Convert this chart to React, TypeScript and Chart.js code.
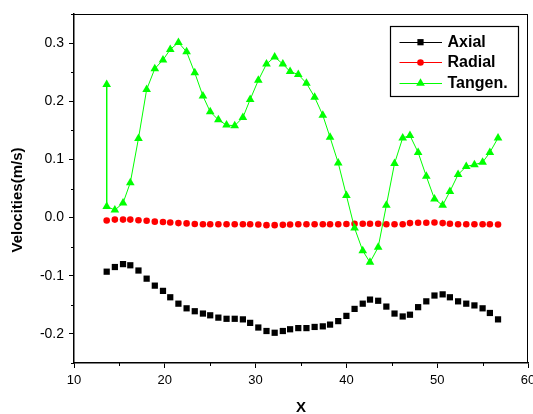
import React, { useEffect, useRef } from 'react';
import { Chart, registerables } from 'chart.js';

Chart.register(...registerables);

// ---- data ----
const xValues = [
  13.6, 14.5, 15.4, 16.2, 17.1, 18.0, 18.9, 19.8, 20.6, 21.5,
  22.4, 23.3, 24.2, 25.0, 25.9, 26.8, 27.7, 28.6, 29.4, 30.3,
  31.2, 32.1, 33.0, 33.8, 34.7, 35.6, 36.5, 37.4, 38.2, 39.1,
  40.0, 40.9, 41.8, 42.6, 43.5, 44.4, 45.3, 46.2, 47.0, 47.9,
  48.8, 49.7, 50.6, 51.4, 52.3, 53.2, 54.1, 55.0, 55.8, 56.7,
];

const axial = [
  -0.093, -0.085, -0.080, -0.082, -0.091, -0.105, -0.117, -0.126, -0.137, -0.148,
  -0.156, -0.161, -0.165, -0.168, -0.172, -0.174, -0.174, -0.175, -0.181, -0.189,
  -0.195, -0.198, -0.195, -0.192, -0.190, -0.190, -0.188, -0.187, -0.184, -0.178,
  -0.169, -0.157, -0.148, -0.141, -0.143, -0.153, -0.165, -0.170, -0.167, -0.154,
  -0.144, -0.134, -0.132, -0.137, -0.144, -0.148, -0.151, -0.156, -0.164, -0.175,
];

const radial = [
  -0.005, -0.0035, -0.0035, -0.0035, -0.0045, -0.0055, -0.007, -0.0075, -0.0085, -0.0095,
  -0.010, -0.011, -0.0115, -0.0115, -0.0115, -0.0115, -0.0115, -0.0115, -0.0115, -0.012,
  -0.013, -0.013, -0.0125, -0.012, -0.0115, -0.0115, -0.0115, -0.0115, -0.0115, -0.0115,
  -0.011, -0.0105, -0.0105, -0.0105, -0.0105, -0.0115, -0.0115, -0.0115, -0.0095, -0.009,
  -0.009, -0.0085, -0.0095, -0.0105, -0.0115, -0.0115, -0.0115, -0.0115, -0.0115, -0.012,
];

const tangenLead = 0.229;
const tangen = [
  0.019, 0.013, 0.025, 0.060, 0.136, 0.220, 0.256, 0.271, 0.289, 0.301,
  0.285, 0.249, 0.209, 0.182, 0.168, 0.159, 0.158, 0.172, 0.203, 0.236,
  0.264, 0.276, 0.264, 0.251, 0.246, 0.231, 0.207, 0.176, 0.138, 0.094,
  0.038, -0.018, -0.057, -0.077, -0.051, 0.021, 0.093, 0.137, 0.141, 0.112,
  0.071, 0.032, 0.021, 0.045, 0.074, 0.088, 0.091, 0.095, 0.112, 0.137,
];

const seriesLabels = ['Axial', 'Radial', 'Tangen.'];
const xTickValues = [10, 20, 30, 40, 50, 60];
const xMinorTickValues = [15, 25, 35, 45, 55];
const yTickValues = [-0.2, -0.1, 0.0, 0.1, 0.2, 0.3];
const yMinorTickValues = [-0.25, -0.15, -0.05, 0.05, 0.15, 0.25, 0.35];
const xTitle = 'X';
const yTitle = 'Velocities(m/s)';

const FONT = '"Liberation Sans", Arial, Helvetica, sans-serif';

function drawMarker(ctx: CanvasRenderingContext2D, style: string, x: number, y: number, r: number, color: string) {
  ctx.fillStyle = color;
  ctx.beginPath();
  if (style === 'rect') {
    const s = r * Math.SQRT1_2;
    ctx.rect(x - s, y - s, 2 * s, 2 * s);
  } else if (style === 'circle') {
    ctx.arc(x, y, r, 0, Math.PI * 2);
  } else {
    ctx.moveTo(x, y - r);
    ctx.lineTo(x + r * Math.sin(Math.PI / 3), y + r / 2);
    ctx.lineTo(x - r * Math.sin(Math.PI / 3), y + r / 2);
    ctx.closePath();
  }
  ctx.fill();
}

const decorPlugin = {
  id: 'decor',
  afterDraw(chart: any) {
    const { ctx, chartArea: a, scales } = chart;
    const xs = scales.x;
    const ys = scales.y;
    ctx.save();
    ctx.strokeStyle = '#000';
    // top and right frame
    ctx.lineWidth = 1;
    ctx.beginPath();
    ctx.moveTo(a.left - 3, Math.round(a.top) + 0.5);
    ctx.lineTo(a.right, Math.round(a.top) + 0.5);
    ctx.moveTo(Math.round(a.right) - 0.5, a.top);
    ctx.lineTo(Math.round(a.right) - 0.5, a.bottom);
    ctx.stroke();
    // minor ticks
    ctx.beginPath();
    xMinorTickValues.forEach((v) => {
      const px = Math.round(xs.getPixelForValue(v)) + 0.5;
      ctx.moveTo(px, a.bottom);
      ctx.lineTo(px, a.bottom + 3);
    });
    yMinorTickValues.forEach((v) => {
      const py = Math.round(ys.getPixelForValue(v)) + 0.5;
      ctx.moveTo(a.left, py);
      ctx.lineTo(a.left - 3, py);
    });
    ctx.stroke();

    // axis titles
    ctx.fillStyle = '#000';
    ctx.font = `bold 15px ${FONT}`;
    ctx.textAlign = 'center';
    ctx.textBaseline = 'middle';
    ctx.fillText(xTitle, (a.left + a.right) / 2, a.bottom + 45);
    ctx.save();
    ctx.translate(a.left - 56, a.top + 186);
    ctx.rotate(-Math.PI / 2);
    ctx.fillText(yTitle, 0, 0);
    ctx.restore();

    // legend
    const bx = a.right - 138;
    const by = a.top + 12;
    const bw = 128;
    const bh = 70;
    ctx.fillStyle = '#fff';
    ctx.fillRect(bx, by, bw, bh);
    ctx.lineWidth = 1.2;
    ctx.strokeStyle = '#000';
    ctx.strokeRect(Math.round(bx) + 0.5, Math.round(by) + 0.5, bw, bh);
    const rows = [15.7, 36, 56.7];
    chart.data.datasets.forEach((ds: any, i: number) => {
      const ry = by + rows[i];
      ctx.strokeStyle = ds.borderColor;
      ctx.lineWidth = 1;
      ctx.beginPath();
      ctx.moveTo(bx + 9.5, Math.round(ry) + 0.5);
      ctx.lineTo(bx + 52, Math.round(ry) + 0.5);
      ctx.stroke();
      drawMarker(ctx, ds.pointStyle, bx + 30.5, ry + 0.5, ds.pointRadius, ds.pointBackgroundColor);
      ctx.fillStyle = '#000';
      ctx.font = `bold 16px ${FONT}`;
      ctx.textAlign = 'left';
      ctx.textBaseline = 'middle';
      ctx.fillText(ds.label, bx + 57.5, ry + 1);
    });
    ctx.restore();
  },
};

export default function App() {
  const ref = useRef<HTMLCanvasElement | null>(null);
  useEffect(() => {
    if (!ref.current) return;
    const tangenData = [{ x: xValues[0], y: tangenLead }].concat(
      xValues.map((x, i) => ({ x, y: tangen[i] }))
    );
    const chart = new Chart(ref.current, {
      type: 'scatter',
      data: {
        datasets: [
          {
            label: seriesLabels[0],
            data: xValues.map((x, i) => ({ x, y: axial[i] })),
            showLine: false,
            borderColor: '#000000',
            pointStyle: 'rect',
            pointRadius: 4.4,
            pointBackgroundColor: '#000000',
            pointBorderWidth: 0,
            order: 3,
          },
          {
            label: seriesLabels[1],
            data: xValues.map((x, i) => ({ x, y: radial[i] })),
            showLine: false,
            borderColor: '#ff0000',
            pointStyle: 'circle',
            pointRadius: 3.3,
            pointBackgroundColor: '#ff0000',
            pointBorderWidth: 0,
            order: 2,
          },
          {
            label: seriesLabels[2],
            data: tangenData,
            showLine: true,
            borderColor: '#00ff00',
            borderWidth: 1,
            pointStyle: 'triangle',
            pointRadius: 5,
            pointBackgroundColor: '#00ff00',
            pointBorderWidth: 0,
            order: 1,
          },
        ] as any,
      },
      options: {
        animation: false,
        responsive: false,
        maintainAspectRatio: false,
        events: [],
        layout: { padding: { top: 14, right: 3, left: 0, bottom: 0 } },
        plugins: { legend: { display: false }, tooltip: { enabled: false } },
        scales: {
          x: {
            type: 'linear',
            min: 10,
            max: 60,
            afterBuildTicks: (s: any) => {
              s.ticks = xTickValues.map((v) => ({ value: v }));
            },
            afterFit: (s: any) => {
              s.height = 51;
              s.paddingLeft = 0;
              s.paddingRight = 0;
            },
            ticks: {
              color: '#000',
              padding: 5,
              maxRotation: 0,
              autoSkip: false,
              font: { family: FONT, size: 13 },
              callback: (v: any) => String(v),
            },
            grid: {
              display: true,
              drawOnChartArea: false,
              drawTicks: true,
              tickLength: 5,
              tickWidth: 1,
              tickColor: '#000',
            },
            border: { display: true, color: '#000', width: 1.5 },
          },
          y: {
            type: 'linear',
            min: -0.25,
            max: 0.35,
            afterBuildTicks: (s: any) => {
              s.ticks = yTickValues.map((v) => ({ value: v }));
            },
            afterFit: (s: any) => {
              s.width = 74;
              s.paddingTop = 0;
              s.paddingBottom = 0;
            },
            ticks: {
              color: '#000',
              padding: 5,
              autoSkip: false,
              font: { family: FONT, size: 14 },
              callback: (v: any) => Number(v).toFixed(1),
            },
            grid: {
              display: true,
              drawOnChartArea: false,
              drawTicks: true,
              tickLength: 5,
              tickWidth: 1,
              tickColor: '#000',
            },
            border: { display: true, color: '#000', width: 1.5 },
          },
        },
      } as any,
      plugins: [decorPlugin],
    });
    return () => chart.destroy();
  }, []);

  return (
    <div style={{ position: 'fixed', left: 0, top: 0, width: 533, height: 414, background: '#fff', overflow: 'hidden' }}>
      <canvas ref={ref} width={533} height={414} style={{ display: 'block', width: 533, height: 414 }} />
    </div>
  );
}
